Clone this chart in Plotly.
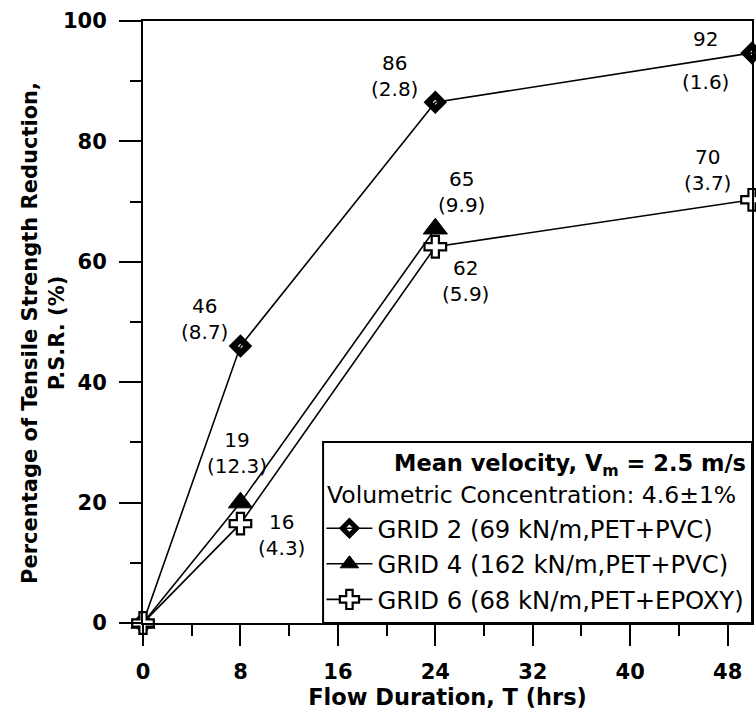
import plotly.graph_objects as go

# ---- data ----
hours_grid2 = [0, 8, 24, 50]
psr_grid2 = [0, 46, 86.5, 94.7]
hours_grid4 = [0, 8, 24]
psr_grid4 = [0, 20, 65.5]
hours_grid6 = [0, 8, 24, 50]
psr_grid6 = [0, 16.5, 62.5, 70.3]

series_names = ["GRID 2 (69 kN/m,PET+PVC)",
                "GRID 4 (162 kN/m,PET+PVC)",
                "GRID 6 (68 kN/m,PET+EPOXY)"]

# printed mean values and (standard deviations) next to the points
grid2_means = ["46", "86", "92"]
grid2_sds = ["(8.7)", "(2.8)", "(1.6)"]
grid4_means = ["19", "65"]
grid4_sds = ["(12.3)", "(9.9)"]
grid6_means = ["16", "62", "70"]
grid6_sds = ["(4.3)", "(5.9)", "(3.7)"]

x_tick_vals = [0, 8, 16, 24, 32, 40, 48]
y_tick_vals = [0, 20, 40, 60, 80, 100]

header_1 = "Mean velocity, V<sub>m</sub> = 2.5 m/s"
header_2 = "Volumetric Concentration: 4.6±1%"
x_title = "Flow Duration, T (hrs)"
y_title = "Percentage of Tensile Strength Reduction,<br>P.S.R. (%)"

FONT = "DejaVu Sans"
BLACK = "black"

fig = go.Figure()

fig.add_trace(go.Scatter(
    x=hours_grid2, y=psr_grid2, name=series_names[0], mode="lines+markers",
    line=dict(color=BLACK, width=1.6),
    marker=dict(symbol="diamond-open", size=11, color=BLACK,
                line=dict(color=BLACK, width=6.5)),
    cliponaxis=False, legendgroup="g2"))
fig.add_trace(go.Scatter(
    x=hours_grid4, y=psr_grid4, name=series_names[1], mode="lines+markers",
    line=dict(color=BLACK, width=1.6),
    marker=dict(symbol="triangle-up", size=21, color=BLACK,
                line=dict(color=BLACK, width=1)),
    cliponaxis=False, legendgroup="g4"))
fig.add_trace(go.Scatter(
    x=hours_grid6, y=psr_grid6, name=series_names[2], mode="lines+markers",
    line=dict(color=BLACK, width=1.6),
    marker=dict(symbol="cross", size=18, color="white",
                line=dict(color=BLACK, width=2.2)),
    cliponaxis=False, legendgroup="g6"))

# ---- value labels ----
label_font = dict(family=FONT, size=20, color=BLACK)
annotations = []

def add_label(x, y, text, dx, dy):
    annotations.append(dict(x=x, y=y, xref="x", yref="y", text=text,
                            showarrow=False, xshift=dx, yshift=dy,
                            font=label_font, align="center"))

# GRID 2
add_label(hours_grid2[1], psr_grid2[1], grid2_means[0] + "<br>" + grid2_sds[0], -36, 27)
add_label(hours_grid2[2], psr_grid2[2], grid2_means[1] + "<br>" + grid2_sds[1], -41, 26)
add_label(hours_grid2[3], psr_grid2[3], grid2_means[2], -47, 14)
add_label(hours_grid2[3], psr_grid2[3], grid2_sds[2], -47, -29)
# GRID 4
add_label(hours_grid4[1], psr_grid4[1], grid4_means[0] + "<br>" + grid4_sds[0], -3, 50)
add_label(hours_grid4[2], psr_grid4[2], grid4_means[1] + "<br>" + grid4_sds[1], 26, 37)
# GRID 6
add_label(hours_grid6[1], psr_grid6[1], grid6_means[0] + "<br>" + grid6_sds[0], 41, -11)
add_label(hours_grid6[2], psr_grid6[2], grid6_means[1] + "<br>" + grid6_sds[1], 30, -34)
add_label(hours_grid6[3], psr_grid6[3], grid6_means[2] + "<br>" + grid6_sds[2], -45, 30)

# ---- legend header texts ----
annotations.append(dict(x=0.4085, y=0.2625, xref="paper", yref="paper",
                        xanchor="left", yanchor="middle", text=header_1,
                        showarrow=False,
                        font=dict(family=FONT, size=22.5, color=BLACK, weight="bold")))
annotations.append(dict(x=0.2994, y=0.2126, xref="paper", yref="paper",
                        xanchor="left", yanchor="middle", text=header_2,
                        showarrow=False,
                        font=dict(family=FONT, size=23.5, color=BLACK)))

# ---- y axis title (two lines, rotated) ----
annotations.append(dict(x=-0.1634, y=0.4826, xref="paper", yref="paper",
                        xanchor="center", yanchor="middle", text=y_title,
                        textangle=-90, showarrow=False, align="center",
                        font=dict(family=FONT, size=21, color=BLACK, weight="bold")))

axis_common = dict(
    showline=True, linecolor=BLACK, linewidth=2, mirror=True,
    ticks="outside", tickwidth=2, tickcolor=BLACK,
    showgrid=False, zeroline=False,
    tickfont=dict(family=FONT, size=21, color=BLACK, weight="bold"),
)

fig.update_layout(
    width=756, height=715,
    margin=dict(l=143, r=4, t=21, b=92, autoexpand=False),
    paper_bgcolor="white", plot_bgcolor="white",
    showlegend=True,
    legend=dict(x=0.293, y=0.1945, xanchor="left", yanchor="top",
                bgcolor="rgba(0,0,0,0)", borderwidth=0,
                font=dict(family=FONT, size=24.3, color=BLACK),
                itemwidth=46, traceorder="grouped", tracegroupgap=1),
    xaxis=dict(axis_common, range=[0, 50], tickvals=x_tick_vals, ticklen=21,
               minor=dict(dtick=4, tick0=0, ticklen=11, tickwidth=2,
                          tickcolor=BLACK, ticks="outside"),
               ticklabelstandoff=8,
               title=dict(text=x_title, standoff=4,
                          font=dict(family=FONT, size=22.5, color=BLACK, weight="bold"))),
    yaxis=dict(axis_common, range=[0, 100], tickvals=y_tick_vals, ticklen=22,
               minor=dict(dtick=10, tick0=0, ticklen=11, tickwidth=2,
                          tickcolor=BLACK, ticks="outside"),
               ticklabelstandoff=8),
    shapes=[dict(type="rect", xref="paper", yref="paper",
                 x0=0.2957, x1=1.0, y0=0.0, y1=0.3007,
                 line=dict(color=BLACK, width=2), fillcolor="white", layer="above")],
    annotations=annotations,
)

fig.write_html("out.html")
